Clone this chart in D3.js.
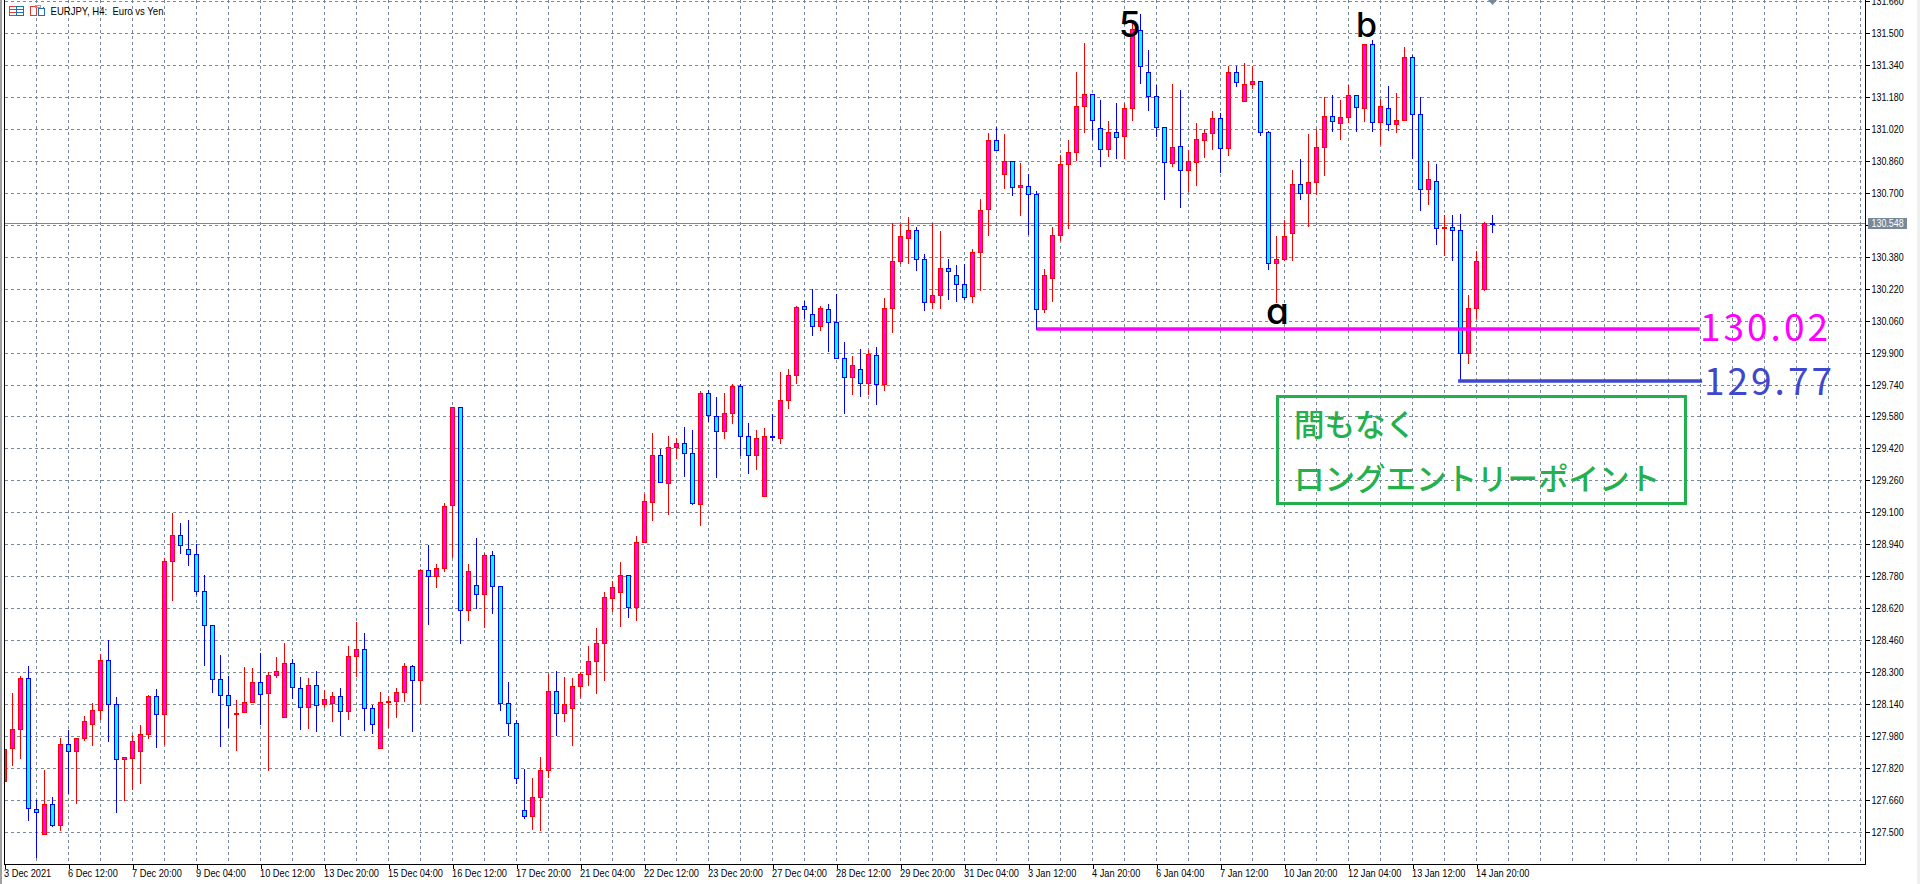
<!DOCTYPE html>
<html lang="ja">
<head>
  <meta charset="utf-8">
  <title>EURJPY H4</title>
  <script src="https://d3js.org/d3.v7.min.js"></script>
  <style>
    html, body { margin: 0; padding: 0; background: #fff; overflow: hidden; }
    svg { display: block; }
    .axis text { font-family: "Liberation Sans", sans-serif; font-size: 11px; fill: #000; }
    .axis path, .axis line { stroke: #000; stroke-width: 1; shape-rendering: crispEdges; }
    .grid line { stroke: #778899; stroke-width: 1; stroke-dasharray: 3 3; shape-rendering: crispEdges; }
    .wave { font-family: Inter, "Open Sans", sans-serif; font-weight: 500; font-feature-settings: "cv11" 1; fill: #000; }
    .note { font-family: "Noto Sans CJK JP", sans-serif; font-weight: 500; font-size: 30.5px; fill: #22b14c; }
    .level { font-family: "Noto Sans CJK JP", sans-serif; font-weight: 400; font-size: 37px; letter-spacing: 3px; }
  </style>
</head>
<body>
  <svg id="chart" width="1920" height="884"></svg>

  <script>
    const openPrices = [
      127.754,127.92,128.015,128.27,127.615,127.49,127.64,127.535,127.94,127.905,
      127.97,128.04,128.11,128.36,128.14,127.865,127.87,127.905,127.99,128.18,
      128.09,128.855,128.985,128.915,128.89,128.705,128.535,128.265,128.185,128.09,
      128.1,128.15,128.25,128.195,128.285,128.075,128.345,128.22,128.125,128.235,
      128.14,128.145,128.18,128.105,128.38,128.415,128.12,127.92,128.15,128.155,
      128.2,128.33,128.26,128.81,128.78,128.82,129.135,129.63,128.61,128.735,
      128.69,128.885,128.73,128.145,128.045,127.61,127.58,127.675,127.81,128.205,
      128.095,128.12,128.23,128.29,128.355,128.445,128.67,128.7,128.785,128.625,
      128.95,129.15,129.385,129.245,129.425,129.445,129.395,129.14,129.7,129.58,
      129.505,129.6,129.735,129.48,129.385,129.18,129.48,129.474,129.665,129.79,
      130.135,130.095,130.035,130.12,130.055,129.875,129.78,129.82,129.75,129.89,
      129.745,130.125,130.36,130.475,130.515,130.37,130.155,130.19,130.325,130.29,
      130.245,130.185,130.405,130.62,130.965,130.795,130.86,130.729,130.735,130.695,
      130.12,130.275,130.49,130.845,130.905,131.135,131.195,131.025,130.92,131.005,
      130.985,131.125,131.515,131.305,131.185,131.03,130.85,130.935,130.815,130.855,
      130.965,131.0,131.075,130.925,131.305,131.16,131.245,131.26,131.005,130.35,
      130.37,130.5,130.745,130.7,130.755,130.93,131.085,131.05,131.08,131.19,
      131.125,131.445,131.055,131.125,131.045,131.065,131.38,131.095,130.72,130.76,
      130.525,130.53,130.515,129.9,130.125,130.22,130.55
    ];
    const highPrices = [
      127.945,128.202,128.284,128.337,127.667,127.817,127.682,127.977,128.017,127.97,
      128.087,128.152,128.395,128.467,128.182,127.882,127.992,128.042,128.192,128.222,
      128.875,129.1,129.052,129.067,128.945,128.792,128.535,128.392,128.287,128.167,
      128.332,128.327,128.402,128.307,128.382,128.452,128.372,128.282,128.277,128.312,
      128.215,128.207,128.227,128.437,128.557,128.502,128.142,128.207,128.187,128.227,
      128.352,128.342,128.822,128.942,128.847,129.152,129.635,129.63,128.847,128.977,
      128.902,128.912,128.73,128.257,128.067,127.822,127.777,127.882,128.295,128.312,
      128.282,128.277,128.307,128.437,128.527,128.707,128.762,128.857,128.785,128.987,
      129.197,129.502,129.42,129.487,129.475,129.532,129.517,129.712,129.72,129.682,
      129.702,129.747,129.747,129.552,129.517,129.527,129.597,129.807,129.822,130.14,
      130.165,130.222,130.14,130.147,130.197,129.957,129.887,129.922,129.917,129.932,
      130.177,130.555,130.547,130.582,130.532,130.397,130.552,130.512,130.374,130.342,
      130.347,130.422,130.672,131.002,131.034,130.997,130.86,130.855,130.797,130.712,
      130.322,130.532,130.892,130.967,131.312,131.457,131.195,131.167,131.062,131.152,
      131.152,131.57,131.6,131.422,131.245,131.03,131.252,131.217,130.917,131.052,
      131.022,131.112,131.105,131.342,131.342,131.357,131.342,131.265,131.015,130.487,
      130.567,130.817,130.872,130.997,131.022,131.182,131.192,131.167,131.245,131.195,
      131.445,131.47,131.175,131.237,131.202,131.437,131.395,131.182,130.862,130.847,
      130.595,130.592,130.597,130.192,130.412,130.557,130.592
    ];
    const lowPrices = [
      127.729,127.837,127.869,127.562,127.375,127.49,127.529,127.509,127.695,127.644,
      127.959,127.934,128.065,127.954,127.599,127.662,127.714,127.744,127.969,127.924,
      127.942,128.659,128.899,128.839,128.69,128.334,128.199,127.929,128.027,127.909,
      128.1,128.15,128.042,127.809,128.277,128.075,128.172,128.014,128.019,128.004,
      128.124,128.054,127.987,128.067,128.282,128.009,127.994,127.92,128.024,128.077,
      128.154,128.004,128.147,128.539,128.724,128.809,128.879,128.444,128.559,128.622,
      128.524,128.594,128.112,127.987,127.744,127.569,127.517,127.512,127.774,127.987,
      128.057,127.937,128.174,128.234,128.194,128.259,128.604,128.529,128.574,128.559,
      128.95,129.064,129.25,129.094,129.374,129.284,129.14,129.039,129.555,129.279,
      129.474,129.549,129.385,129.299,129.319,129.18,129.46,129.449,129.624,129.749,
      130.075,129.987,130.014,129.907,129.875,129.599,129.694,129.684,129.694,129.644,
      129.714,130.004,130.347,130.349,130.314,130.114,130.125,130.124,130.169,130.159,
      130.169,130.154,130.215,130.487,130.915,130.724,130.689,130.589,130.495,130.02,
      130.104,130.159,130.462,130.524,130.862,131.004,130.967,130.834,130.884,130.874,
      130.875,131.062,131.252,131.112,130.984,130.667,130.834,130.629,130.707,130.737,
      130.879,130.919,130.802,130.887,131.232,131.16,131.222,130.987,130.317,130.152,
      130.365,130.365,130.667,130.532,130.692,130.787,131.01,130.967,131.054,131.007,
      131.057,131.007,130.942,131.015,131.002,131.065,130.875,130.612,130.642,130.442,
      130.387,130.362,129.767,129.847,130.074,130.215,130.502
    ];
    const closePrices = [
      127.915,128.015,128.27,127.62,127.6,127.64,127.535,127.94,127.905,127.97,
      128.055,128.11,128.36,128.14,127.865,127.875,127.955,127.99,128.18,128.09,
      128.855,128.985,128.935,128.89,128.705,128.535,128.265,128.185,128.135,128.095,
      128.15,128.25,128.19,128.285,128.305,128.345,128.225,128.125,128.235,128.135,
      128.165,128.18,128.105,128.38,128.415,128.12,128.04,128.15,128.155,128.2,
      128.33,128.26,128.81,128.78,128.82,129.13,129.63,128.61,128.805,128.69,
      128.885,128.73,128.145,128.045,127.77,127.58,127.675,127.81,128.205,128.095,
      128.14,128.23,128.29,128.355,128.445,128.675,128.725,128.785,128.625,128.95,
      129.155,129.385,129.25,129.425,129.445,129.395,129.145,129.7,129.59,129.505,
      129.6,129.735,129.48,129.385,129.47,129.48,129.475,129.665,129.79,130.13,
      130.12,130.035,130.125,130.055,129.875,129.78,129.84,129.75,129.892,129.745,
      130.125,130.36,130.485,130.515,130.37,130.155,130.19,130.325,130.31,130.245,
      130.18,130.405,130.615,130.965,130.915,130.86,130.73,130.74,130.695,130.12,
      130.29,130.49,130.845,130.905,131.135,131.195,131.065,130.92,131.005,130.98,
      131.125,131.52,131.335,131.185,131.03,130.855,130.93,130.815,130.86,130.97,
      131.0,131.075,130.925,131.305,131.255,131.245,131.26,131.005,130.35,130.37,
      130.485,130.745,130.7,130.755,130.93,131.085,131.06,131.08,131.19,131.13,
      131.445,131.055,131.135,131.045,131.065,131.38,131.095,130.72,130.77,130.525,
      130.53,130.515,129.9,130.125,130.36,130.55,130.545
    ];

    const priceTicks = [
      131.66,131.5,131.34,131.18,131.02,130.86,130.7,130.54,130.38,130.22,130.06,129.9,129.74,129.58,
      129.42,129.26,129.1,128.94,128.78,128.62,128.46,128.3,128.14,127.98,127.82,127.66,127.5
    ];
    const timeLabels = [
      "3 Dec 2021","6 Dec 12:00","7 Dec 20:00","9 Dec 04:00","10 Dec 12:00","13 Dec 20:00","15 Dec 04:00",
      "16 Dec 12:00","17 Dec 20:00","21 Dec 04:00","22 Dec 12:00","23 Dec 20:00","27 Dec 04:00","28 Dec 12:00",
      "29 Dec 20:00","31 Dec 04:00","3 Jan 12:00","4 Jan 20:00","6 Jan 04:00","7 Jan 12:00","10 Jan 20:00",
      "12 Jan 04:00","13 Jan 12:00","14 Jan 20:00"
    ];
    const lastPrice = 130.548;

    const width = 1920;
    const height = 884;
    const left = 4.5;
    const right = 1865.5;
    const bottom = 864.5;

    const svg = d3.select("#chart");

    // one candle every 8px, a label every 8 candles
    const x = d3.scaleLinear().domain([0, 1]).range([4.5, 12.5]);
    const y = d3.scaleLinear().domain([127.5, 131.66]).range([832.5, 1.5]);
    const snap = v => Math.floor(v) + 0.5;

    // the chart terminal's font is narrower than anything installed, squeeze the labels
    const squeeze = (sel, k) => sel.each(function() {
      d3.select(this)
        .attr("textLength", this.getComputedTextLength() * k)
        .attr("lengthAdjust", "spacingAndGlyphs");
    });

    const candles = openPrices.map((o, i) => ({
      i, open: o, high: highPrices[i], low: lowPrices[i], close: closePrices[i]
    }));

    svg.append("defs").append("clipPath").attr("id", "plot")
      .append("rect").attr("x", left).attr("y", 0).attr("width", right - left).attr("height", bottom);

    // window edges
    svg.append("rect").attr("width", 2).attr("height", height).attr("fill", "#a0a0a0");
    svg.append("rect").attr("x", 1917).attr("width", 3).attr("height", height).attr("fill", "#f0f0f0");

    // grid
    const grid = svg.append("g").attr("class", "grid");
    grid.selectAll(".h").data(priceTicks).join("line").attr("class", "h")
      .attr("x1", left).attr("x2", right)
      .attr("y1", d => snap(y(d))).attr("y2", d => snap(y(d)));
    grid.selectAll(".v").data(d3.range(1, 59)).join("line").attr("class", "v")
      .attr("x1", d => x(d * 4)).attr("x2", d => x(d * 4))
      .attr("y1", 0).attr("y2", bottom);

    // last price line
    svg.append("line")
      .attr("x1", left).attr("x2", right)
      .attr("y1", snap(y(lastPrice))).attr("y2", snap(y(lastPrice)))
      .attr("stroke", "#778899").attr("shape-rendering", "crispEdges");

    // candles
    const candleG = svg.append("g").attr("clip-path", "url(#plot)").attr("shape-rendering", "crispEdges");
    candleG.selectAll("line").data(candles).join("line")
      .attr("x1", d => x(d.i)).attr("x2", d => x(d.i))
      .attr("y1", d => snap(y(d.high))).attr("y2", d => snap(y(d.low)))
      .attr("stroke", d => d.close >= d.open ? "#ff0000" : "#0000ff");
    candleG.selectAll("rect").data(candles).join("rect")
      .attr("x", d => x(d.i) - 2)
      .attr("width", 4)
      .attr("y", d => snap(y(Math.max(d.open, d.close))))
      .attr("height", d => Math.max(1, snap(y(Math.min(d.open, d.close))) - snap(y(Math.max(d.open, d.close)))))
      .attr("fill", d => d.close >= d.open ? "#ff00ff" : "#00ffff")
      .attr("stroke", d => d.close >= d.open ? "#ff0000" : "#0000ff");

    // axes
    const timeTicks = timeLabels.map((d, i) => i * 8);
    svg.append("g").attr("class", "axis")
      .attr("transform", `translate(0,${bottom})`)
      .call(d3.axisBottom(x).tickValues(timeTicks).tickFormat((d, i) => timeLabels[i]).tickSize(4).tickSizeOuter(0))
      .call(g => g.select(".domain").attr("d", `M${left},0H${right}`))
      .call(g => g.selectAll("text").attr("text-anchor", "start").attr("x", -1).attr("y", 5).attr("dy", "0.71em"))
      .call(g => squeeze(g.selectAll("text"), 0.84));

    svg.append("g").attr("class", "axis")
      .attr("transform", `translate(${right},0)`)
      .call(d3.axisRight(y).tickValues(priceTicks).tickFormat(d3.format(".3f")).tickSize(4).tickPadding(2).tickSizeOuter(0))
      .call(g => g.select(".domain").attr("d", `M0,0V${bottom}`))
      .call(g => g.selectAll(".tick").attr("transform", d => `translate(0,${snap(y(d))})`))
      .call(g => squeeze(g.selectAll("text"), 0.81));

    svg.append("line").attr("x1", left).attr("x2", left).attr("y1", 0).attr("y2", bottom)
      .attr("stroke", "#000").attr("shape-rendering", "crispEdges");

    // last price tag
    svg.append("rect")
      .attr("x", 1868).attr("y", snap(y(lastPrice)) - 5.5).attr("width", 39).attr("height", 11)
      .attr("fill", "#778899");
    svg.append("text")
      .attr("x", 1871.5).attr("y", snap(y(lastPrice))).attr("dy", "0.34em")
      .attr("font-family", "Liberation Sans, sans-serif")
      .attr("font-size", 11).attr("fill", "#fff")
      .text(d3.format(".3f")(lastPrice))
      .call(s => squeeze(s, 0.81));

    // scroll marker
    svg.append("path").attr("d", "M1488,0H1497L1492.5,5Z").attr("fill", "#778899");

    // header
    const icons = svg.append("g").attr("fill", "none").attr("stroke-width", 1).attr("shape-rendering", "crispEdges");
    icons.append("path").attr("stroke", "#e03c31").attr("d", "M9.5,6.5H16.5V15.5H9.5ZM9.5,9.5H16.5M9.5,12.5H16.5");
    icons.append("path").attr("stroke", "#1e6fb8").attr("d", "M16.5,6.5H23.5V15.5H16.5ZM16.5,9.5H23.5M16.5,12.5H23.5");
    icons.append("path").attr("stroke", "#e03c31").attr("d", "M30.5,6.5H36.5V15.5H30.5Z");
    icons.append("path").attr("stroke", "#1e6fb8").attr("d", "M38.5,8.5H44.5V15.5H38.5ZM43.5,6.5V8.5");
    icons.append("path").attr("stroke", "#a0a0a0").attr("d", "M35.5,5.5H40.5V7.5H35.5Z");
    svg.append("text")
      .attr("x", 50.5).attr("y", 14.5)
      .attr("font-family", "Liberation Sans, sans-serif")
      .attr("font-size", 11).style("white-space", "pre")
      .attr("textLength", 113).attr("lengthAdjust", "spacingAndGlyphs")
      .text("EURJPY, H4:  Euro vs Yen");

    // support lines and their prices
    const levels = [
      { price: 130.02, from: 129, to: 211.9, color: "#ff00ff", label: "130.02", tx: 1700, ty: 341 },
      { price: 129.76, from: 181.7, to: 212.2, color: "#3f48cc", label: "129.77", tx: 1704, ty: 395 }
    ];
    svg.selectAll(".levelLine").data(levels).join("line").attr("class", "levelLine")
      .attr("x1", d => x(d.from)).attr("x2", d => x(d.to))
      .attr("y1", d => y(d.price)).attr("y2", d => y(d.price))
      .attr("stroke", d => d.color).attr("stroke-width", 3.5);
    svg.selectAll(".level").data(levels).join("text").attr("class", "level")
      .attr("x", d => d.tx).attr("y", d => d.ty)
      .attr("fill", d => d.color)
      .text(d => d.label);

    // wave labels
    svg.append("text").attr("class", "wave").attr("x", 1119).attr("y", 37).attr("font-size", 35).text("5");
    svg.append("text").attr("class", "wave").attr("x", 1356).attr("y", 37).attr("font-size", 34).text("b");
    svg.append("text").attr("class", "wave").attr("x", 1266).attr("y", 324).attr("font-size", 37).text("a");

    // note box
    svg.append("rect")
      .attr("x", 1277.5).attr("y", 396.5).attr("width", 408).attr("height", 107)
      .attr("fill", "none").attr("stroke", "#22b14c").attr("stroke-width", 3);
    svg.append("text").attr("class", "note").attr("x", 1294).attr("y", 436).text("間もなく");
    svg.append("text").attr("class", "note").attr("x", 1294).attr("y", 490).text("ロングエントリーポイント");
  </script>
</body>
</html>
